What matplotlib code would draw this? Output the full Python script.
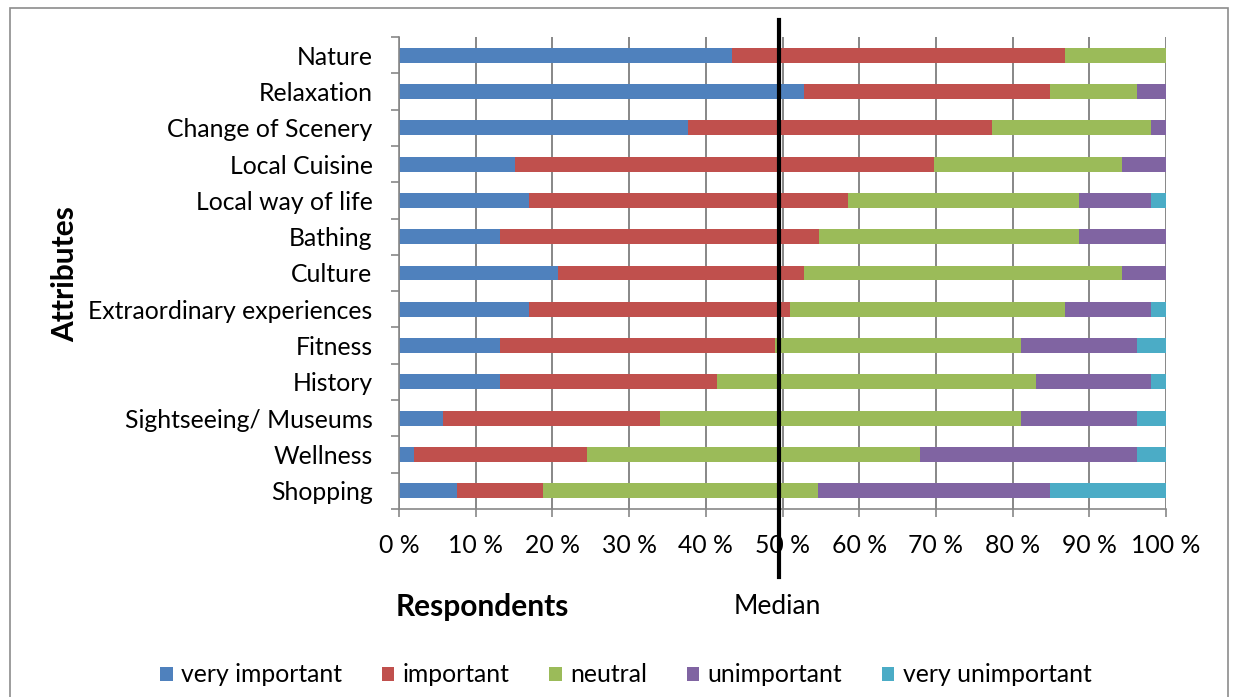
import matplotlib
matplotlib.use("Agg")
import matplotlib.pyplot as plt
import numpy as np
from matplotlib.patches import Rectangle
from matplotlib.ticker import FuncFormatter

attributes = ["Nature", "Relaxation", "Change of Scenery", "Local Cuisine",
              "Local way of life", "Bathing", "Culture", "Extraordinary experiences",
              "Fitness", "History", "Sightseeing/ Museums", "Wellness", "Shopping"]

# share of respondents per answer, in percent
very_important = [43.4, 52.8, 37.7, 15.1, 17.0, 13.2, 20.8, 17.0, 13.2, 13.2, 5.7, 1.9, 7.5]
important = [43.4, 32.1, 39.6, 54.7, 41.5, 41.5, 32.1, 34.0, 35.8, 28.3, 28.3, 22.6, 11.3]
neutral = [13.2, 11.3, 20.8, 24.5, 30.2, 34.0, 41.5, 35.8, 32.1, 41.5, 47.2, 43.4, 35.8]
unimportant = [0.0, 3.8, 1.9, 5.7, 9.4, 11.3, 5.7, 11.3, 15.1, 15.1, 15.1, 28.3, 30.2]
very_unimportant = [0.0, 0.0, 0.0, 0.0, 1.9, 0.0, 0.0, 1.9, 3.8, 1.9, 3.8, 3.8, 15.1]

series_names = ["very important", "important", "neutral", "unimportant", "very unimportant"]
colors = ["#4F81BD", "#C0504D", "#9BBB59", "#8064A2", "#4BACC6"]
median_pos = 49.6

FONT = ["Lato", "DejaVu Sans"]
plt.rcParams["font.family"] = FONT
GRAY = "#878787"

data = np.array([very_important, important, neutral, unimportant, very_unimportant])
data = data / data.sum(axis=0) * 100

fig = plt.figure(figsize=(12.34, 6.97), dpi=100)
ax = fig.add_axes([399 / 1234, 1 - 509 / 697, 767 / 1234, 472 / 697])

ypos = np.arange(len(attributes))
left = np.zeros(len(attributes))
for name, values, color in zip(series_names, data, colors):
    ax.barh(ypos, values, left=left, height=0.41, color=color, label=name, zorder=2)
    left += values

ax.set_xlim(0, 100)
ax.set_ylim(len(attributes) - 0.5, -0.5)

ax.set_xticks(np.arange(0, 101, 10))
ax.xaxis.set_major_formatter(FuncFormatter(lambda v, p: "{} %".format(int(v))))
ax.set_yticks(ypos)
ax.set_yticklabels(attributes)
ax.set_yticks(np.arange(-0.5, len(attributes)), minor=True)

ax.tick_params(axis="x", length=6, width=1.2, color=GRAY, pad=12, labelsize=17.8)
ax.tick_params(axis="y", which="major", length=0, pad=19, labelsize=17.8)
ax.tick_params(axis="y", which="minor", length=6, width=1.2, color=GRAY)

ax.grid(axis="x", color=GRAY, linewidth=1.4)
ax.set_axisbelow(True)
for side in ["top", "right"]:
    ax.spines[side].set_visible(False)
for side in ["left", "bottom"]:
    ax.spines[side].set_color(GRAY)
    ax.spines[side].set_linewidth(1.2)

# median marker running past the plot area
ax.axvline(median_pos, ymin=-0.144, ymax=1.036, color="black", linewidth=3, clip_on=False, zorder=10)

fig.text(65 / 1234, 1 - 274 / 697, "Attributes", rotation=90, ha="center", va="center",
         fontsize=21.5, fontweight="bold")
fig.text(482 / 1234, 1 - 607 / 697, "Respondents", ha="center", va="center",
         fontsize=21.5, fontweight="bold")
fig.text(777 / 1234, 1 - 607 / 697, "Median", ha="center", va="center", fontsize=19)

fig.legend(loc="center", bbox_to_anchor=(626 / 1234, 1 - 675 / 697), ncol=5, frameon=False,
           fontsize=17.8, handlelength=0.5, handleheight=0.5, handletextpad=0.35,
           columnspacing=1.6)

fig.patches.append(Rectangle((10 / 1234, -0.05), 1218 / 1234, 0.05 + 1 - 8 / 697,
                             transform=fig.transFigure, fill=False, edgecolor="#8c8c8c",
                             linewidth=1.2))

fig.savefig("out.png", dpi=100)
